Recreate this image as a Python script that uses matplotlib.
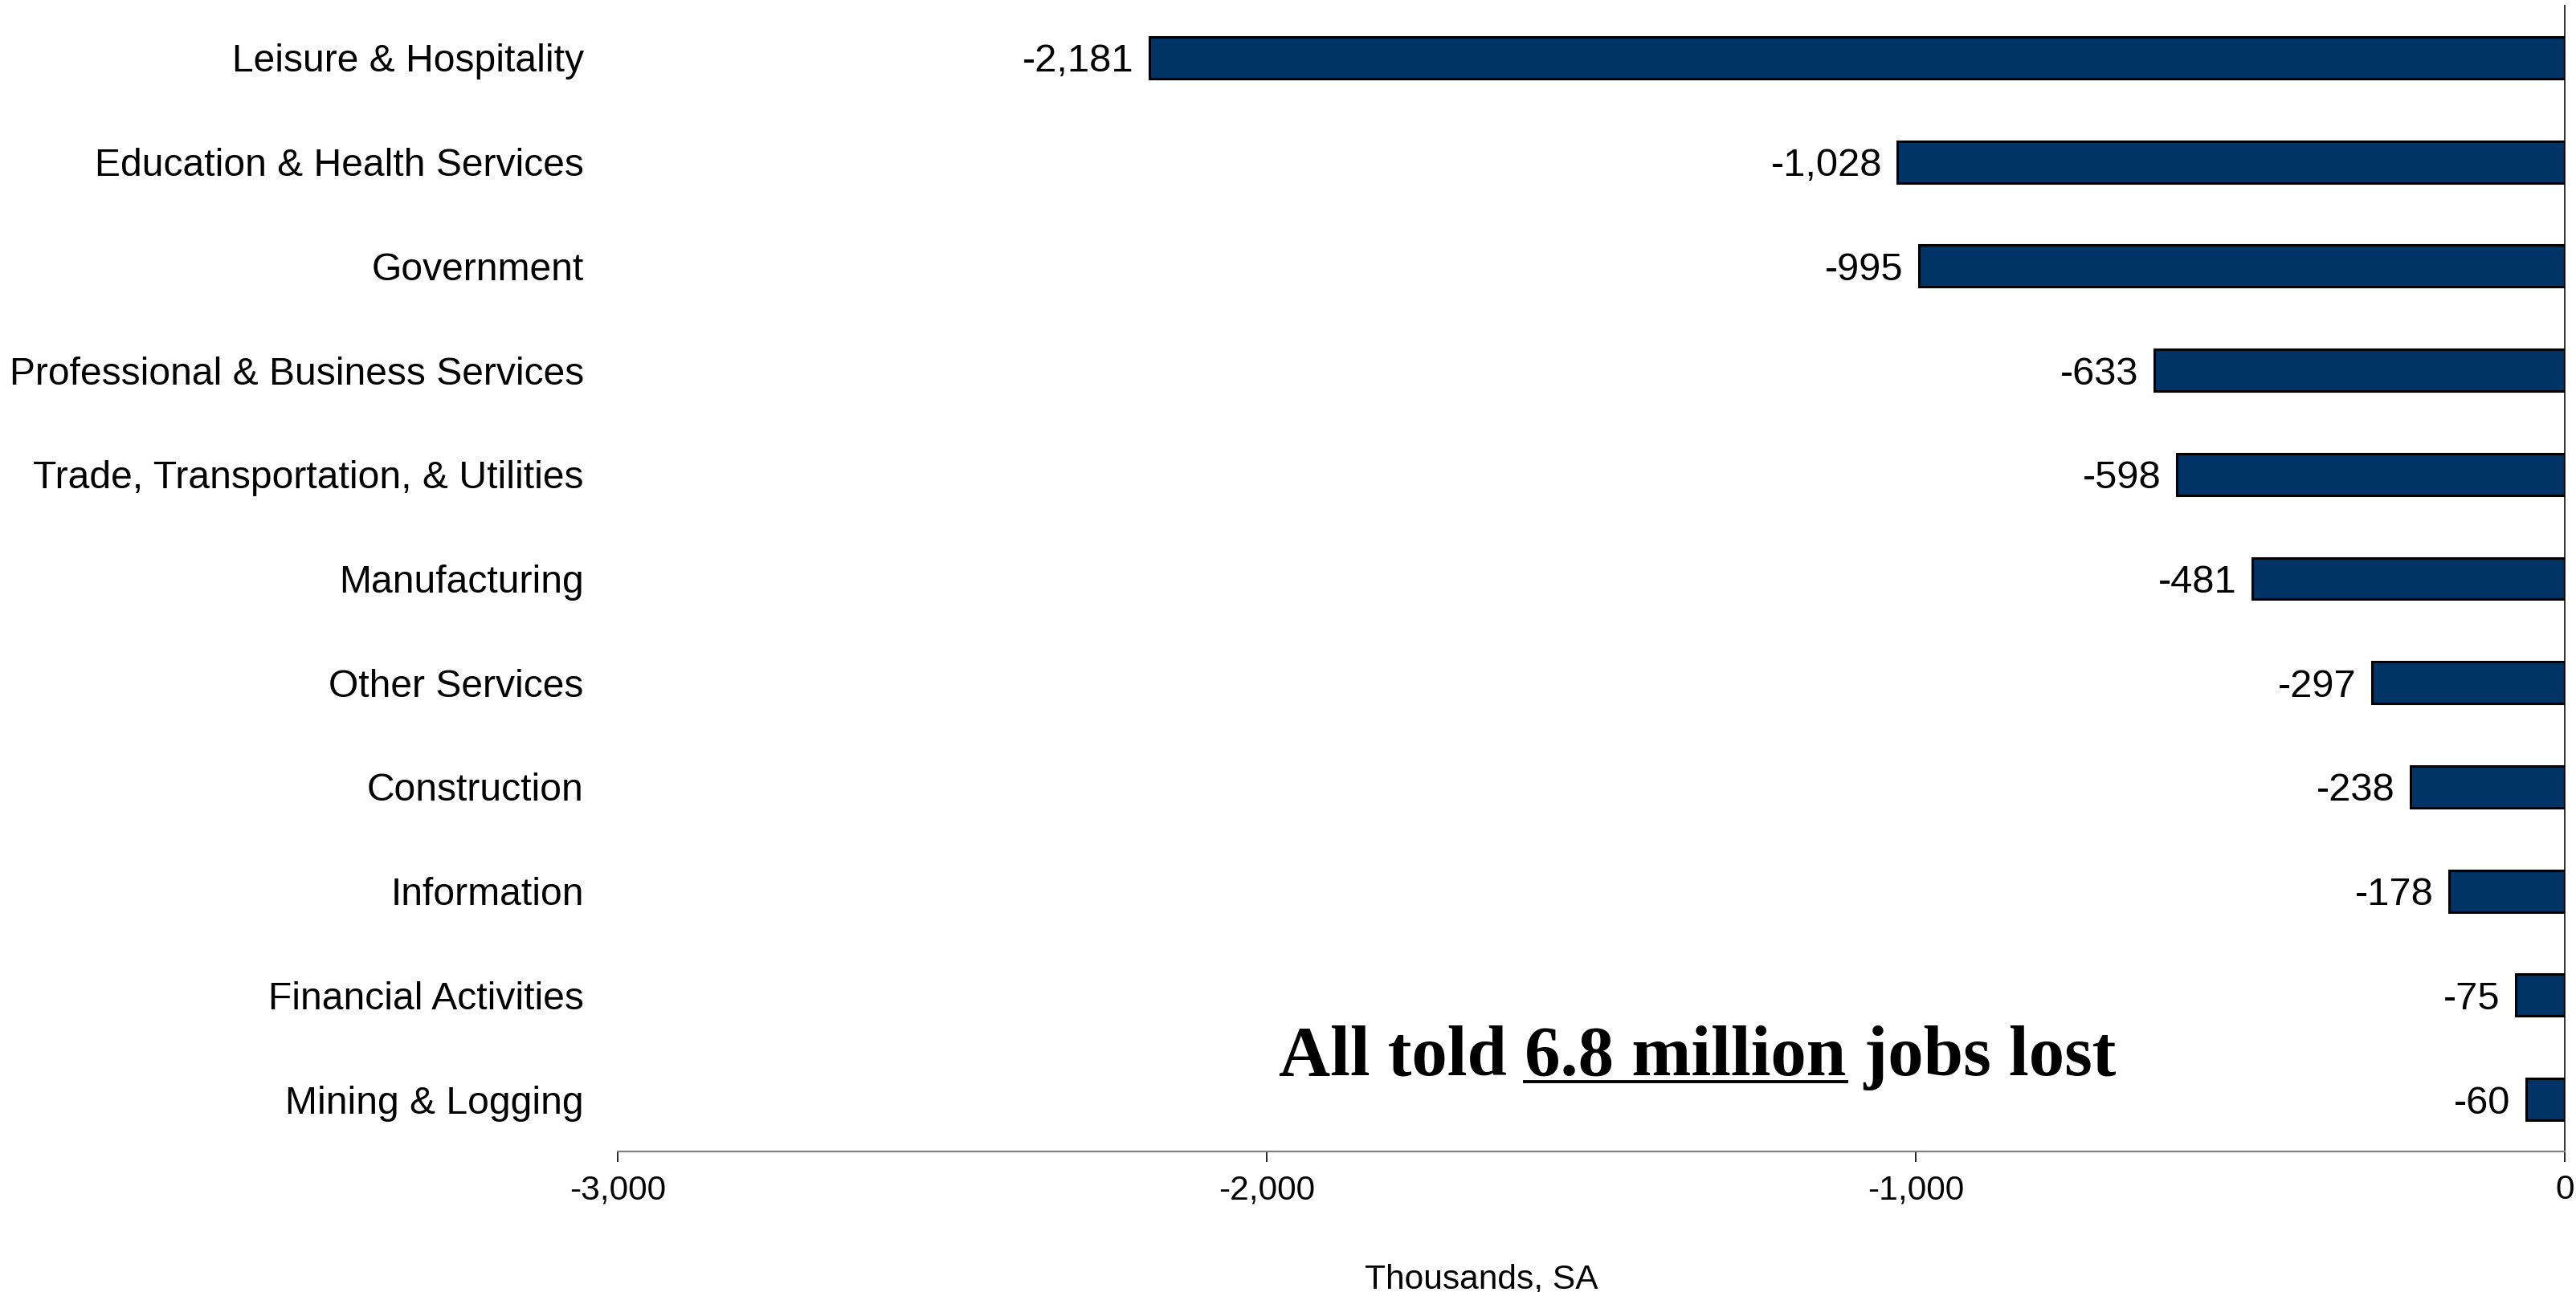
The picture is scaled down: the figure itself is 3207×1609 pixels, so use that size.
import matplotlib
matplotlib.use("Agg")
import matplotlib.pyplot as plt
from matplotlib.lines import Line2D
from matplotlib.ticker import FuncFormatter

# Job losses by industry, thousands (seasonally adjusted)
industries = [
    "Leisure & Hospitality",
    "Education & Health Services",
    "Government",
    "Professional & Business Services",
    "Trade, Transportation, & Utilities",
    "Manufacturing",
    "Other Services",
    "Construction",
    "Information",
    "Financial Activities",
    "Mining & Logging",
]
job_change = [-2181, -1028, -995, -633, -598, -481, -297, -238, -178, -75, -60]
x_ticks = [-3000, -2000, -1000, 0]

plt.rcParams["font.family"] = ["Liberation Sans", "DejaVu Sans"]

W, H, DPI = 3207, 1609, 200
fig = plt.figure(figsize=(W / DPI, H / DPI), dpi=DPI)
ax = fig.add_axes([769 / W, 1 - 1434 / H, (3193 - 769) / W, (1434 - 7) / H])

ypos = list(range(len(industries)))
ax.barh(ypos, job_change, height=0.4, color="#003366",
        edgecolor="black", linewidth=1.1, zorder=3)

for y, v in zip(ypos, job_change):
    ax.annotate(f"{v:,}", xy=(v, y), xytext=(-7, 0), textcoords="offset points",
                ha="right", va="center_baseline", fontsize=17.6, color="black")

ax.set_xlim(-3000, 0)
ax.set_ylim(len(industries) - 0.5, -0.5)
ax.set_yticks(ypos)
ax.set_yticklabels(industries, fontsize=17.3)
ax.tick_params(axis="y", length=0, pad=15.2)
ax.set_xticks(x_ticks)
ax.xaxis.set_major_formatter(FuncFormatter(lambda v, p: f"{int(v):,}"))
ax.tick_params(axis="x", direction="out", length=4.7, width=0.6,
               color="black", labelsize=15.3, pad=5.5)

for s in ("top", "left"):
    ax.spines[s].set_visible(False)
ax.spines["bottom"].set_color("#808080")
ax.spines["bottom"].set_linewidth(0.8)
ax.spines["right"].set_color("#303030")
ax.spines["right"].set_linewidth(0.7)

fig.text(1844 / W, 4 / H, "Thousands, SA", ha="center", va="baseline", fontsize=15.3)

# Headline callout with underlined figure
headline_kw = dict(fontsize=32, fontweight="bold",
                   family=["Liberation Serif", "DejaVu Serif"], color="black")
prefix, emph, suffix = "All told ", "6.8 million", " jobs lost"
callout = ax.text(-1981, 9.77, prefix + emph + suffix, ha="left", va="baseline",
                  zorder=5, **headline_kw)

fig.canvas.draw()
renderer = fig.canvas.get_renderer()


def text_width(s):
    t = fig.text(0, 0, s, **headline_kw)
    w = t.get_window_extent(renderer).width
    t.remove()
    return w


bb = callout.get_window_extent(renderer)
w_upto = text_width(prefix + emph)
w_emph = text_width(emph)
x0_px = bb.x0 + w_upto - w_emph
x1_px = bb.x0 + w_upto
base_px = ax.transData.transform((-1981, 9.77))[1]
u_px = base_px - 8
fig.add_artist(Line2D([x0_px / W, x1_px / W], [u_px / H, u_px / H],
                      transform=fig.transFigure, color="black", linewidth=1.4))

fig.savefig("out.png", dpi=DPI)
